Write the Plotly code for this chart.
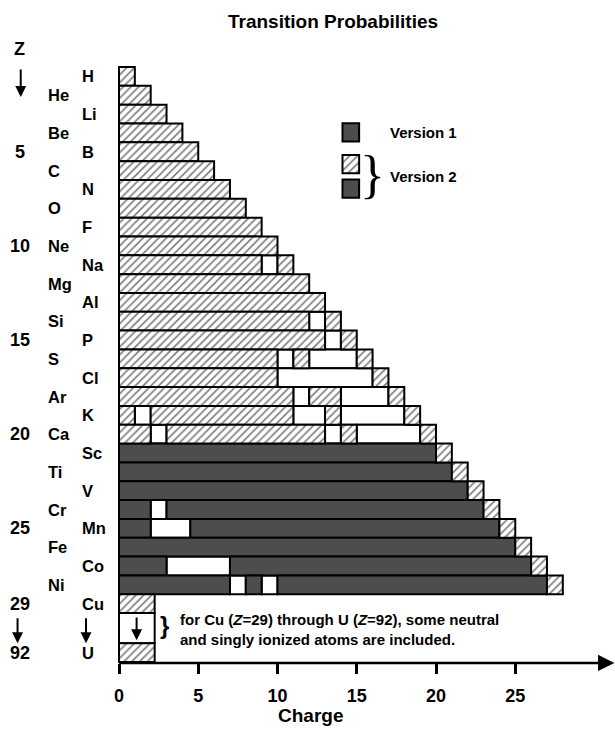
import plotly.graph_objects as go

# ---------------- data ----------------
symbols = ["H", "He", "Li", "Be", "B", "C", "N", "O", "F", "Ne",
           "Na", "Mg", "Al", "Si", "P", "S", "Cl", "Ar", "K", "Ca",
           "Sc", "Ti", "V", "Cr", "Mn", "Fe", "Co", "Ni"]
atomic_numbers = [1, 2, 3, 4, 5, 6, 7, 8, 9, 10,
                  11, 12, 13, 14, 15, 16, 17, 18, 19, 20,
                  21, 22, 23, 24, 25, 26, 27, 28]
# charge ranges without data (white cells)
gaps = {
    "Na": [(9, 10)],
    "Si": [(12, 13)],
    "P": [(13, 14)],
    "S": [(10, 11), (12, 15)],
    "Cl": [(10, 16)],
    "Ar": [(11, 12), (14, 17)],
    "K": [(1, 2), (11, 13), (14, 18)],
    "Ca": [(2, 3), (13, 14), (15, 19)],
    "Cr": [(2, 3)],
    "Mn": [(2, 4.5)],
    "Co": [(3, 7)],
    "Ni": [(7, 8), (9, 10)],
}
# elements whose data are in Version 1 (dark) except the hydrogen-like ion
version1_elements = ["Sc", "Ti", "V", "Cr", "Mn", "Fe", "Co", "Ni"]
heavy_symbols = ["Cu", "U"]
heavy_z = [29, 92]
heavy_charge_extent = 2.25
z_tick_values = [5, 10, 15, 20, 25]
charge_ticks = [0, 5, 10, 15, 20, 25]

# ---------------- styling ----------------
DARK = "#4d4d4d"
FONT = "Liberation Sans, Arial, Helvetica, sans-serif"
HATCH = dict(shape="/", fgcolor="black", bgcolor="white", size=5.5, solidity=0.3)
LINE = dict(color="black", width=2)

hatched = dict(y=[], base=[], x=[], width=[])
dark = dict(y=[], base=[], x=[], width=[])
white = dict(y=[], base=[], x=[], width=[])


def add(store, yc, start, end, thick=1.0):
    store["y"].append(yc)
    store["base"].append(start)
    store["x"].append(end - start)
    store["width"].append(thick)


for sym, z in zip(symbols, atomic_numbers):
    yc = z - 0.5
    g = gaps.get(sym, [])
    v1 = sym in version1_elements
    edges = {0, z}
    for a, b in g:
        edges.update([a, b])
    if v1:
        edges.add(z - 1)
    edges = sorted(edges)
    for a, b in zip(edges[:-1], edges[1:]):
        mid = (a + b) / 2
        if any(ga <= mid <= gb for ga, gb in g):
            add(white, yc, a, b)
        elif v1 and b <= z - 1:
            add(dark, yc, a, b)
        else:
            add(hatched, yc, a, b)

# Cu ... U block
add(hatched, 28.5, 0, heavy_charge_extent)
add(white, 29.8, 0, heavy_charge_extent, 1.6)
add(hatched, 31.1, 0, heavy_charge_extent)

# legend swatches
add(dark, 3.47, 14.1, 15.15, 0.97)
add(hatched, 5.16, 14.1, 15.15, 0.97)
add(dark, 6.46, 14.1, 15.15, 0.97)

fig = go.Figure()
for store, color, pattern in [(white, "white", None), (dark, DARK, None), (hatched, "white", HATCH)]:
    marker = dict(color=color, line=LINE)
    if pattern:
        marker["pattern"] = pattern
    fig.add_trace(go.Bar(orientation="h", y=store["y"], x=store["x"], base=store["base"],
                         width=store["width"], marker=marker, hoverinfo="skip",
                         showlegend=False))

ann = []


def text(x, y, s, size, xanchor="center", family=FONT, bold=True):
    ann.append(dict(x=x, y=y, xref="x", yref="y", text=s, showarrow=False,
                    xanchor=xanchor, yanchor="middle",
                    font=dict(family=family, size=size, color="black",
                              weight="bold" if bold else "normal")))


def arrow(x, y0, y1):
    ann.append(dict(x=x, y=y1, ax=x, ay=y0, xref="x", yref="y", axref="x", ayref="y",
                    text="", showarrow=True, arrowhead=2, arrowsize=1.1,
                    arrowwidth=2, arrowcolor="black"))


# element labels
for sym, z in zip(symbols, atomic_numbers):
    text(-2.46 if z % 2 else -4.62, z - 0.5, sym, 16.5, xanchor="left")
text(-2.46, 28.5, heavy_symbols[0], 16.5, xanchor="left")
text(-2.46, 31.1, heavy_symbols[1], 16.5, xanchor="left")

# Z column
text(-6.27, -0.96, "Z", 18)
arrow(-6.2, 0.05, 1.6)
for v in z_tick_values:
    text(-6.27, v - 0.5, str(v), 18)
text(-6.27, 28.5, str(heavy_z[0]), 18)
text(-6.27, 31.1, str(heavy_z[1]), 18)
arrow(-6.4, 29.2, 30.6)
arrow(-2.08, 29.2, 30.6)
arrow(1.11, 29.15, 30.45)

# note
text(2.9, 29.65, "}", 24)
ann.append(dict(x=3.72, y=29.87, xref="x", yref="y", showarrow=False,
                text="for Cu (<i>Z</i>=29) through U (<i>Z</i>=92), some neutral<br>"
                     "and singly ionized atoms are included.",
                xanchor="left", yanchor="middle", align="left",
                font=dict(family=FONT, size=15, color="black", weight="bold")))

# legend text
text(16.97, 3.5, "Version 1", 15, xanchor="left")
text(16.97, 5.79, "Version 2", 15, xanchor="left")
text(16.0, 5.7, "}", 52, family="Liberation Serif, Times New Roman, serif", bold=False)

# title and axis title
text(13.5, -2.39, "Transition Probabilities", 19)
text(12.11, 34.45, "Charge", 19)

# x axis line with arrow
ann.append(dict(x=31.25, y=31.65, ax=-0.08, ay=31.65, xref="x", yref="y", axref="x", ayref="y",
                text="", showarrow=True, arrowhead=2, arrowsize=1.3, arrowwidth=2.5,
                arrowcolor="black"))

fig.update_layout(
    width=615, height=729,
    margin=dict(l=0, r=0, t=0, b=0),
    paper_bgcolor="white", plot_bgcolor="white",
    barmode="overlay",
    annotations=ann,
    xaxis=dict(range=[-7.508, 31.293], tickvals=charge_ticks,
               ticktext=[str(t) for t in charge_ticks],
               tickfont=dict(family=FONT, size=18, color="black", weight="bold"),
               ticks="outside", ticklen=10, tickwidth=2.5, tickcolor="black",
               showgrid=False, zeroline=False, showline=False,
               anchor="free", position=(729 - 663) / 729, automargin=False,
               ticklabelstandoff=6, fixedrange=True),
    yaxis=dict(range=[35.157, -3.558], visible=False, showgrid=False, zeroline=False,
               fixedrange=True),
)

fig.write_html("out.html", config={"displayModeBar": False},
               post_script="document.body.style.margin='0px';")
